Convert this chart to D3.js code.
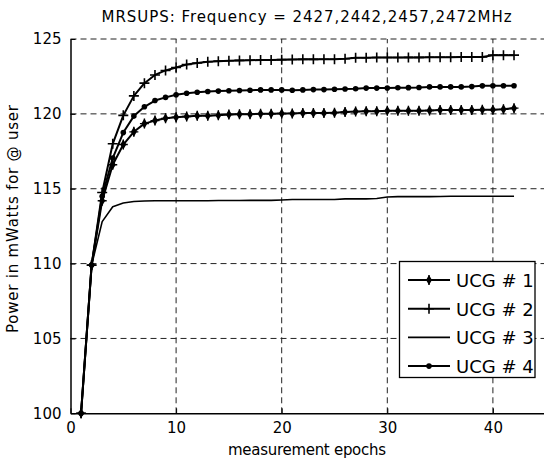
<!DOCTYPE html>
<html>
<head>
<meta charset="utf-8">
<script src="https://cdn.jsdelivr.net/npm/d3@7"></script>
<style>
  body { margin: 0; background: #fff; }
  svg text { font-family: "Comic Sans MS", "DejaVu Sans", sans-serif; fill: #000; }
</style>
</head>
<body>
<div id="chart"></div>
<script>
// measurement epochs (x values)
const epochs = [1, 2, 3, 4, 5, 6, 7, 8, 9, 10, 11, 12, 13, 14, 15, 16, 17, 18, 19, 20, 21,
  22, 23, 24, 25, 26, 27, 28, 29, 30, 31, 32, 33, 34, 35, 36, 37, 38, 39, 40, 41, 42];

// power values, one array per UCG
const ucg1 = [100, 109.9, 114.2, 116.6, 117.95, 118.8, 119.35, 119.55, 119.7, 119.78, 119.82,
  119.87, 119.88, 119.9, 119.95, 119.97, 119.98, 120.0, 120.0, 120.02, 120.03, 120.05, 120.05,
  120.05, 120.08, 120.12, 120.15, 120.18, 120.18, 120.2, 120.2, 120.2, 120.2, 120.22, 120.25,
  120.25, 120.25, 120.25, 120.28, 120.28, 120.3, 120.38];
const ucg2 = [100, 109.9, 114.75, 118.0, 119.9, 121.2, 122.05, 122.6, 122.9, 123.1, 123.3,
  123.4, 123.48, 123.52, 123.55, 123.57, 123.58, 123.6, 123.6, 123.62, 123.63, 123.64, 123.64,
  123.65, 123.65, 123.68, 123.75, 123.75, 123.76, 123.76, 123.76, 123.77, 123.77, 123.78, 123.78,
  123.78, 123.79, 123.79, 123.8, 123.92, 123.92, 123.92];
const ucg3 = [100, 109.9, 112.8, 113.8, 114.05, 114.15, 114.18, 114.2, 114.2, 114.2, 114.2,
  114.2, 114.2, 114.21, 114.21, 114.21, 114.22, 114.22, 114.22, 114.25, 114.28, 114.28, 114.28,
  114.28, 114.28, 114.32, 114.32, 114.32, 114.35, 114.45, 114.47, 114.47, 114.47, 114.47, 114.48,
  114.5, 114.5, 114.5, 114.5, 114.5, 114.5, 114.5];
const ucg4 = [100, 109.9, 114.5, 117.05, 118.75, 119.85, 120.47, 120.89, 121.1, 121.27, 121.38,
  121.44, 121.49, 121.52, 121.54, 121.56, 121.58, 121.6, 121.6, 121.6, 121.58, 121.6, 121.62,
  121.62, 121.64, 121.66, 121.68, 121.72, 121.72, 121.73, 121.74, 121.75, 121.76, 121.8, 121.8,
  121.8, 121.8, 121.82, 121.87, 121.88, 121.88, 121.88];

const seriesNames = ["UCG # 1", "UCG # 2", "UCG # 3", "UCG # 4"];
const seriesMarkers = ["star", "plus", "none", "dot"];
const xTicks = [0, 10, 20, 30, 40];
const yTicks = [100, 105, 110, 115, 120, 125];

const series = [ucg1, ucg2, ucg3, ucg4].map((vals, i) => ({
  name: seriesNames[i],
  marker: seriesMarkers[i],
  values: vals.map((v, j) => ({ x: epochs[j], y: v }))
}));

const W = 544, H = 461;
const svg = d3.select("#chart").append("svg")
  .attr("width", W)
  .attr("height", H);

const x = d3.scaleLinear().domain([0, 45]).range([70.5, 545.7]);
const y = d3.scaleLinear().domain([100, 125]).range([413.3, 39]);

// grid
const grid = svg.append("g").attr("stroke", "#222").attr("stroke-width", 1)
  .attr("stroke-dasharray", "6,4");
grid.selectAll(".vg").data(xTicks.filter(d => d > 0)).enter().append("line")
  .attr("x1", d => x(d)).attr("x2", d => x(d))
  .attr("y1", y(100)).attr("y2", y(125));
grid.selectAll(".hg").data(yTicks.filter(d => d > 100)).enter().append("line")
  .attr("x1", x(0)).attr("x2", W)
  .attr("y1", d => y(d)).attr("y2", d => y(d));

// axes with inward ticks
const xAxis = svg.append("g")
  .attr("transform", "translate(0," + y(100) + ")")
  .call(d3.axisBottom(x).tickValues(xTicks).tickSizeInner(-5).tickSizeOuter(0).tickPadding(9));
const yAxis = svg.append("g")
  .attr("transform", "translate(" + x(0) + ",0)")
  .call(d3.axisLeft(y).tickValues(yTicks).tickSizeInner(-5).tickSizeOuter(0).tickPadding(9));
[xAxis, yAxis].forEach(a => {
  a.select(".domain").attr("stroke", "#000").attr("stroke-width", 1.5);
  a.selectAll(".tick line").attr("stroke", "#000");
  a.selectAll("text").style("font-size", "15px")
    .style("font-family", "\"Comic Sans MS\", \"DejaVu Sans\", sans-serif");
});

// lines
const line = d3.line().x(d => x(d.x)).y(d => y(d.y));
series.forEach(s => {
  svg.append("path")
    .datum(s.values)
    .attr("fill", "none")
    .attr("stroke", "#000")
    .attr("stroke-width", s.marker === "none" ? 1.6 : 2)
    .attr("stroke-linejoin", "round")
    .attr("d", line);
});

function drawMarker(g, type, cx, cy) {
  if (type === "plus") {
    g.append("path").attr("d", `M${cx - 5},${cy}H${cx + 5}M${cx},${cy - 5}V${cy + 5}`)
      .attr("stroke", "#000").attr("stroke-width", 1.6);
  } else if (type === "star") {
    g.append("path").attr("d", `M${cx},${cy - 5}L${cx + 3},${cy}L${cx},${cy + 5}L${cx - 3},${cy}Z`)
      .attr("fill", "#000");
    g.append("path").attr("d", `M${cx - 4.5},${cy}H${cx + 4.5}M${cx},${cy - 5}V${cy + 5}`)
      .attr("stroke", "#000").attr("stroke-width", 1.4);
  } else if (type === "dot") {
    g.append("circle").attr("cx", cx).attr("cy", cy).attr("r", 2.8).attr("fill", "#000");
  }
}

series.forEach(s => {
  const g = svg.append("g");
  s.values.forEach(d => drawMarker(g, s.marker, x(d.x), y(d.y)));
});

// legend
const legend = svg.append("g");
legend.append("rect")
  .attr("x", 399.5).attr("y", 261.5).attr("width", 135.5).attr("height", 116)
  .attr("fill", "#fff").attr("stroke", "#000").attr("stroke-width", 1.3);
series.forEach((s, i) => {
  const ly = 280 + i * 28.7;
  legend.append("line").attr("x1", 408).attr("x2", 450).attr("y1", ly).attr("y2", ly)
    .attr("stroke", "#000").attr("stroke-width", s.marker === "none" ? 1.6 : 2);
  drawMarker(legend, s.marker, 429, ly);
  legend.append("text").attr("x", 456).attr("y", ly + 7)
    .style("font-size", "18px").text(s.name);
});

// title and labels
svg.append("text").attr("x", 306.5).attr("y", 22).attr("text-anchor", "middle")
  .attr("textLength", 410).attr("lengthAdjust", "spacing")
  .style("font-size", "15px").text("MRSUPS: Frequency = 2427,2442,2457,2472MHz");
svg.append("text").attr("x", 307).attr("y", 455).attr("text-anchor", "middle")
  .attr("textLength", 158).attr("lengthAdjust", "spacing")
  .style("font-size", "15px").text("measurement epochs");
svg.append("text")
  .attr("transform", "translate(18,219) rotate(-90)")
  .attr("text-anchor", "middle")
  .attr("textLength", 228).attr("lengthAdjust", "spacing")
  .style("font-size", "15px").text("Power in mWatts for @ user");
</script>
</body>
</html>
